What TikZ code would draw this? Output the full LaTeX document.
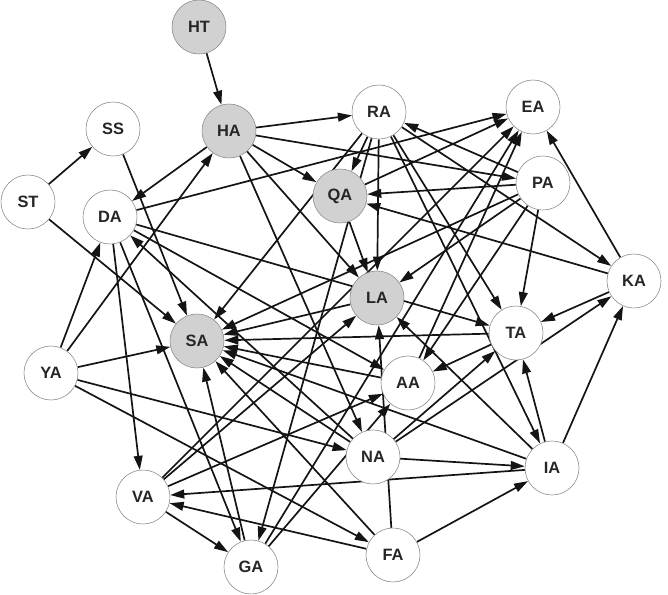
\documentclass[tikz,border=0pt]{standalone}
\usepackage{fontspec}
\setsansfont{Liberation Sans}
\usetikzlibrary{arrows.meta,backgrounds}

\begin{document}
\begin{tikzpicture}[
    x=0.03cm, y=-0.03cm, >={Triangle[length=12pt,width=7.5pt]},
    var/.style={circle, draw=black!45, line width=0.5pt, fill=white, minimum size=1.62cm, inner sep=0pt,
      font=\sffamily\bfseries\fontsize{14}{16}\selectfont, text=black!85},
    focal/.style={var, fill=black!18},
    link/.style={->, line width=1.45pt, black!92}
  ]
  \useasboundingbox (0,0) rectangle (668,595);
  % variables
  \node[focal] (HT) at (199,27) {HT};
  \node[focal] (HA) at (229,131) {HA};
  \node[var] (SS) at (113,129) {SS};
  \node[var] (ST) at (28,202) {ST};
  \node[var] (DA) at (110,217) {DA};
  \node[var] (RA) at (379,112) {RA};
  \node[var] (EA) at (533,107) {EA};
  \node[focal] (QA) at (340,196) {QA};
  \node[var] (PA) at (543,183) {PA};
  \node[focal] (LA) at (377,298) {LA};
  \node[var] (KA) at (634,281) {KA};
  \node[focal] (SA) at (197,341) {SA};
  \node[var] (YA) at (51,373) {YA};
  \node[var] (TA) at (516,333) {TA};
  \node[var] (AA) at (408,383) {AA};
  \node[var] (NA) at (373,457) {NA};
  \node[var] (IA) at (552,468) {IA};
  \node[var] (VA) at (143,497) {VA};
  \node[var] (GA) at (251,567) {GA};
  \node[var] (FA) at (393,555) {FA};
  % links, behind the circles
  \begin{pgfonlayer}{background}
  \draw[link] (HT) -- (HA);
  \draw[link] (ST) -- (SS);
  \draw[link] (ST) -- (SA);
  \draw[link] (SS) -- (SA);
  \draw[link] (HA) -- (DA);
  \draw[link] (HA) -- (RA);
  \draw[link] (HA) -- (PA);
  \draw[link] (HA) -- (QA);
  \draw[link] (HA) -- (LA);
  \draw[link] (HA) -- (NA);
  \draw[link] (YA) -- (HA);
  \draw[link] (YA) -- (DA);
  \draw[link] (YA) -- (SA);
  \draw[link] (YA) -- (NA);
  \draw[link] (YA) -- (FA);
  \draw[link] (DA) -- (EA);
  \draw[link] (DA) -- (VA);
  \draw[link] (DA) -- (GA);
  \draw[link] (DA) -- (AA);
  \draw[link] (DA) -- (TA);
  \draw[link] (NA) -- (DA);
  \draw[link] (RA) -- (QA);
  \draw[link] (RA) -- (LA);
  \draw[link] (RA) -- (SA);
  \draw[link] (RA) -- (GA);
  \draw[link] (RA) -- (TA);
  \draw[link] (RA) -- (IA);
  \draw[link] (RA) -- (KA);
  \draw[link] (PA) -- (RA);
  \draw[link] (PA) -- (QA);
  \draw[link] (PA) -- (LA);
  \draw[link] (PA) -- (SA);
  \draw[link] (PA) -- (AA);
  \draw[link] (PA) -- (TA);
  \draw[link] (QA) -- (EA);
  \draw[link] (QA) -- (LA);
  \draw[link] (KA) -- (EA);
  \draw[link] (KA) -- (QA);
  \draw[link] (KA) -- (TA);
  \draw[link] (IA) -- (KA);
  \draw[link] (IA) -- (TA);
  \draw[link] (IA) -- (LA);
  \draw[link] (IA) -- (SA);
  \draw[link] (IA) -- (VA);
  \draw[link] (NA) -- (IA);
  \draw[link] (NA) -- (KA);
  \draw[link] (NA) -- (TA);
  \draw[link] (NA) -- (SA);
  \draw[link] (FA) -- (IA);
  \draw[link] (FA) -- (LA);
  \draw[link] (FA) -- (SA);
  \draw[link] (FA) -- (VA);
  \draw[link] (VA) -- (GA);
  \draw[link] (VA) -- (LA);
  \draw[link] (VA) -- (EA);
  \draw[link] (VA) -- (AA);
  \draw[link] (GA) -- (SA);
  \draw[link] (GA) -- (AA);
  \draw[link] (GA) -- (EA);
  \draw[link] (AA) -- (EA);
  \draw[link] (AA) -- (SA);
  \draw[link] (TA) -- (AA);
  \draw[link] (TA) -- (SA);
  \draw[link] (LA) -- (SA);
  \end{pgfonlayer}
\end{tikzpicture}
\end{document}
